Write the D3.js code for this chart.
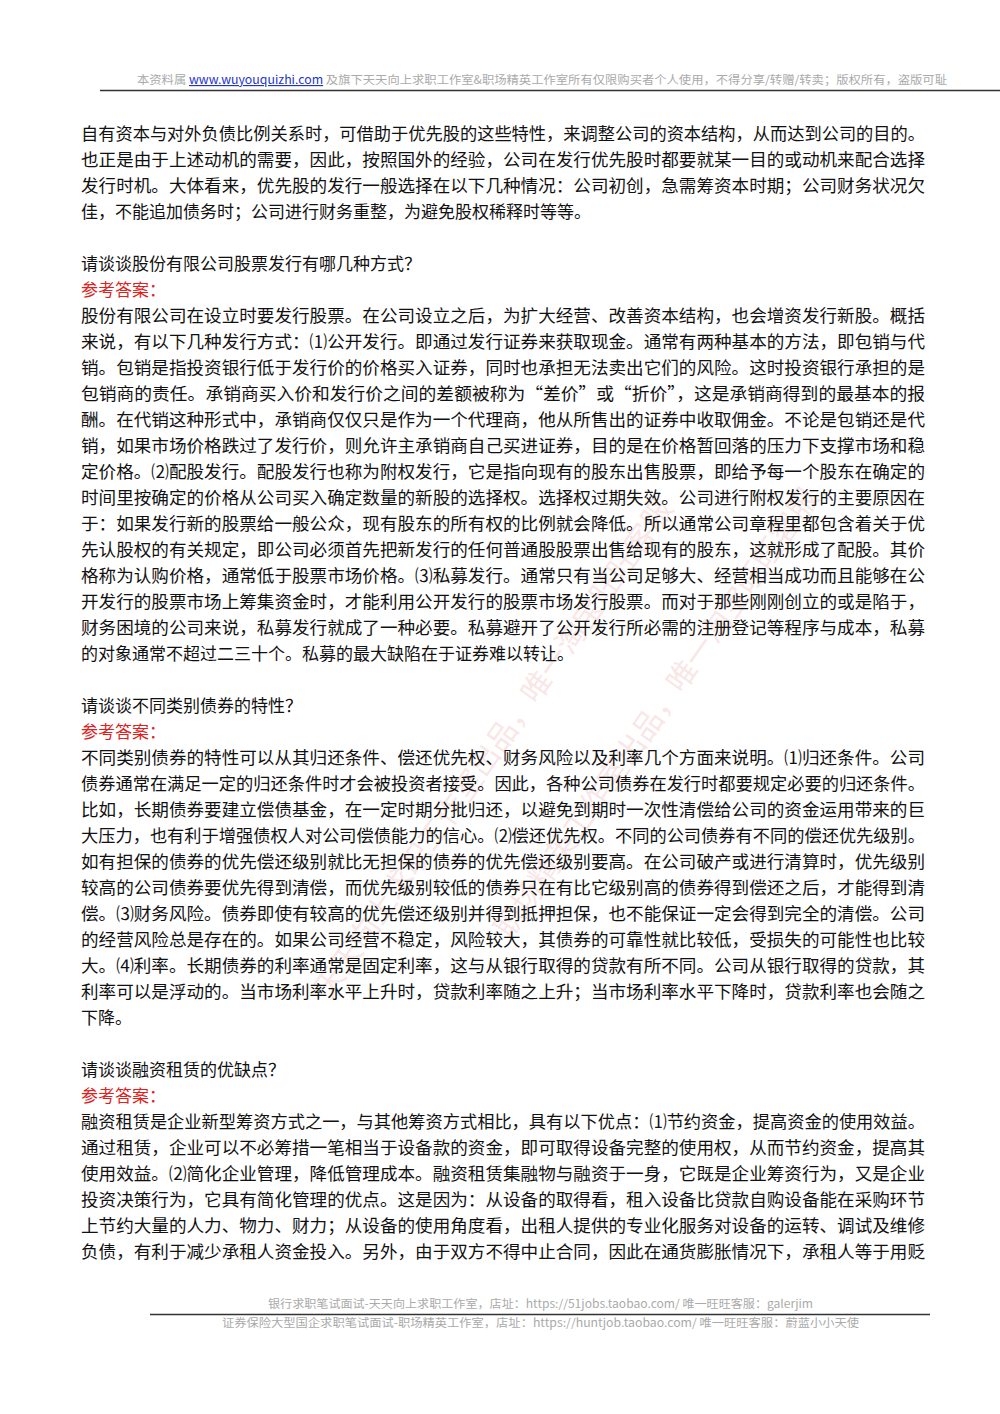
<!DOCTYPE html>
<html><head><meta charset="utf-8">
<script src="https://cdn.jsdelivr.net/npm/d3@7"></script>
<style>body{margin:0;background:#fff}</style>
</head><body><svg id="page"></svg>
<script>
const headerText = "本资料属 www.wuyouquizhi.com 及旗下天天向上求职工作室&职场精英工作室所有仅限购买者个人使用，不得分享/转赠/转卖；版权所有，盗版可耻";
const footerLines = [
  "银行求职笔试面试-天天向上求职工作室，店址：https://51jobs.taobao.com/  唯一旺旺客服：galerjim",
  "证券保险大型国企求职笔试面试-职场精英工作室，店址：https://huntjob.taobao.com/  唯一旺旺客服：蔚蓝小小天使"
];
// each block: [kind, lines]; the last line of a "p" block is not justified
const blocks = [
  ["p", ["自有资本与对外负债比例关系时，可借助于优先股的这些特性，来调整公司的资本结构，从而达到公司的目的。",
         "也正是由于上述动机的需要，因此，按照国外的经验，公司在发行优先股时都要就某一目的或动机来配合选择",
         "发行时机。大体看来，优先股的发行一般选择在以下几种情况：公司初创，急需筹资本时期；公司财务状况欠",
         "佳，不能追加债务时；公司进行财务重整，为避免股权稀释时等等。"]],
  ["gap", []],
  ["q", ["请谈谈股份有限公司股票发行有哪几种方式？"]],
  ["a", ["参考答案："]],
  ["p", ["股份有限公司在设立时要发行股票。在公司设立之后，为扩大经营、改善资本结构，也会增资发行新股。概括",
         "来说，有以下几种发行方式：⑴公开发行。即通过发行证券来获取现金。通常有两种基本的方法，即包销与代",
         "销。包销是指投资银行低于发行价的价格买入证券，同时也承担无法卖出它们的风险。这时投资银行承担的是",
         "包销商的责任。承销商买入价和发行价之间的差额被称为“差价”或“折价”，这是承销商得到的最基本的报",
         "酬。在代销这种形式中，承销商仅仅只是作为一个代理商，他从所售出的证券中收取佣金。不论是包销还是代",
         "销，如果市场价格跌过了发行价，则允许主承销商自己买进证券，目的是在价格暂回落的压力下支撑市场和稳",
         "定价格。⑵配股发行。配股发行也称为附权发行，它是指向现有的股东出售股票，即给予每一个股东在确定的",
         "时间里按确定的价格从公司买入确定数量的新股的选择权。选择权过期失效。公司进行附权发行的主要原因在",
         "于：如果发行新的股票给一般公众，现有股东的所有权的比例就会降低。所以通常公司章程里都包含着关于优",
         "先认股权的有关规定，即公司必须首先把新发行的任何普通股股票出售给现有的股东，这就形成了配股。其价",
         "格称为认购价格，通常低于股票市场价格。⑶私募发行。通常只有当公司足够大、经营相当成功而且能够在公",
         "开发行的股票市场上筹集资金时，才能利用公开发行的股票市场发行股票。而对于那些刚刚创立的或是陷于，",
         "财务困境的公司来说，私募发行就成了一种必要。私募避开了公开发行所必需的注册登记等程序与成本，私募",
         "的对象通常不超过二三十个。私募的最大缺陷在于证券难以转让。"]],
  ["gap", []],
  ["q", ["请谈谈不同类别债券的特性？"]],
  ["a", ["参考答案："]],
  ["p", ["不同类别债券的特性可以从其归还条件、偿还优先权、财务风险以及利率几个方面来说明。⑴归还条件。公司",
         "债券通常在满足一定的归还条件时才会被投资者接受。因此，各种公司债券在发行时都要规定必要的归还条件。",
         "比如，长期债券要建立偿债基金，在一定时期分批归还，以避免到期时一次性清偿给公司的资金运用带来的巨",
         "大压力，也有利于增强债权人对公司偿债能力的信心。⑵偿还优先权。不同的公司债券有不同的偿还优先级别。",
         "如有担保的债券的优先偿还级别就比无担保的债券的优先偿还级别要高。在公司破产或进行清算时，优先级别",
         "较高的公司债券要优先得到清偿，而优先级别较低的债券只在有比它级别高的债券得到偿还之后，才能得到清",
         "偿。⑶财务风险。债券即使有较高的优先偿还级别并得到抵押担保，也不能保证一定会得到完全的清偿。公司",
         "的经营风险总是存在的。如果公司经营不稳定，风险较大，其债券的可靠性就比较低，受损失的可能性也比较",
         "大。⑷利率。长期债券的利率通常是固定利率，这与从银行取得的贷款有所不同。公司从银行取得的贷款，其",
         "利率可以是浮动的。当市场利率水平上升时，贷款利率随之上升；当市场利率水平下降时，贷款利率也会随之",
         "下降。"]],
  ["gap", []],
  ["q", ["请谈谈融资租赁的优缺点？"]],
  ["a", ["参考答案："]],
  ["pc", ["融资租赁是企业新型筹资方式之一，与其他筹资方式相比，具有以下优点：⑴节约资金，提高资金的使用效益。",
          "通过租赁，企业可以不必筹措一笔相当于设备款的资金，即可取得设备完整的使用权，从而节约资金，提高其",
          "使用效益。⑵简化企业管理，降低管理成本。融资租赁集融物与融资于一身，它既是企业筹资行为，又是企业",
          "投资决策行为，它具有简化管理的优点。这是因为：从设备的取得看，租入设备比贷款自购设备能在采购环节",
          "上节约大量的人力、物力、财力；从设备的使用角度看，出租人提供的专业化服务对设备的运转、调试及维修",
          "负债，有利于减少承租人资金投入。另外，由于双方不得中止合同，因此在通货膨胀情况下，承租人等于用贬"]]
];
const watermark = ["天天向上求职工作室出品，唯一淘宝旺旺客服", "职场精英工作室出品，唯一淘宝旺旺客服"];

const W = 1000, H = 1414, left = 81, right = 925, lineH = 26, firstY = 140;
const svg = d3.select("#page").attr("width", W).attr("height", H)
  .style("font-family", "'Noto Sans CJK SC', sans-serif");

// watermark
svg.selectAll(".wm").data(watermark).enter().append("text")
  .attr("transform", (d, i) => `translate(${330 + i * 180},${1000 - i * 60}) rotate(-55)`)
  .attr("font-size", 30).attr("fill", "#e8a0a0").attr("opacity", 0.25).text(d => d);

// header
svg.append("text").attr("x", 137).attr("y", 84).attr("font-size", 11.5).attr("fill", "#aaa")
  .attr("textLength", 810).attr("lengthAdjust", "spacingAndGlyphs")
  .html('本资料属 <tspan fill="#2233cc" text-decoration="underline">www.wuyouquizhi.com</tspan> 及旗下天天向上求职工作室&amp;职场精英工作室所有仅限购买者个人使用，不得分享/转赠/转卖；版权所有，盗版可耻');
svg.append("line").attr("x1", 100).attr("x2", 1000).attr("y1", 90.5).attr("y2", 90.5)
  .attr("stroke", "#333").attr("stroke-width", 1.5);

// body
const rows = [];
let y = firstY;
blocks.forEach(([kind, lines]) => {
  if (kind === "gap") { y += lineH; return; }
  lines.forEach((t, i) => {
    const justify = (kind === "p" && i < lines.length - 1) || kind === "pc";
    rows.push({ t, y, kind, justify });
    y += lineH;
  });
});
svg.selectAll(".row").data(rows).enter().append("text")
  .attr("x", left).attr("y", d => d.y).attr("font-size", 17)
  .attr("fill", d => d.kind === "a" ? "#e0201c" : "#111")
  .attr("textLength", d => d.justify ? right - left : null)
  .attr("lengthAdjust", "spacingAndGlyphs")
  .text(d => d.t);

// footer
svg.append("text").attr("x", 268).attr("y", 1308).attr("font-size", 11.5).attr("fill", "#aaa")
  .attr("textLength", 545).attr("lengthAdjust", "spacingAndGlyphs").text(footerLines[0]);
svg.append("line").attr("x1", 150).attr("x2", 930).attr("y1", 1314.5).attr("y2", 1314.5)
  .attr("stroke", "#333").attr("stroke-width", 1.5);
svg.append("text").attr("x", 222).attr("y", 1327).attr("font-size", 11.5).attr("fill", "#aaa")
  .attr("textLength", 637).attr("lengthAdjust", "spacingAndGlyphs").text(footerLines[1]);
</script></body></html>
